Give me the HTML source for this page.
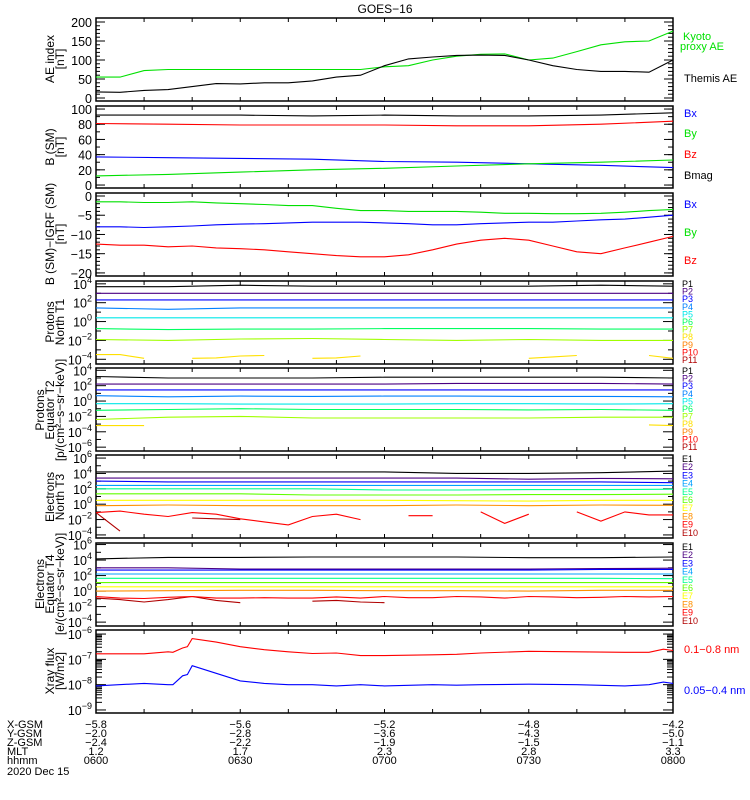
<!DOCTYPE html>
<html><head><meta charset="utf-8"><style>
html,body{margin:0;padding:0;background:#fff;}
svg{display:block;font-family:"Liberation Sans",sans-serif;}
</style></head><body>
<svg id="c" width="750" height="800" xmlns="http://www.w3.org/2000/svg">
<text x="385" y="13" font-size="12" text-anchor="middle">GOES−16</text>
</svg>
<script>
// ---- data (minutes after 06:00) ----
const t5 = [0,5,10,15,20,25,30,35,40,45,50,55,60,65,70,75,80,85,90,95,100,105,110,115,120];
const t15 = [0,15,30,45,60,75,90,105,120];
const aeThemis = [16,15,20,22,30,38,37,40,40,45,55,60,85,103,108,112,113,112,100,85,75,70,70,68,100];
const aeKyoto = [55,55,72,75,75,75,75,75,75,75,75,75,82,85,100,110,115,116,100,105,122,140,148,150,176];
const bmag = [92,92,92,91,92,91,91,92,95];
const bz = [81,80,79,79,79,78,78,80,84];
const bx = [37,36,35,34,31,30,28,26,23];
const by = [12,14,17,20,22,25,28,30,33];
const dbx = [-8,-8,-8.2,-8,-7.8,-7.5,-7.3,-7.2,-7,-6.8,-6.8,-6.8,-7,-7.2,-7.5,-7.5,-7.2,-7.0,-6.8,-6.8,-6.5,-6.2,-6,-5.5,-5];
const dby = [-1.5,-1.5,-1.7,-1.7,-1.5,-1.8,-2.0,-2.2,-2.5,-2.5,-3.2,-3.8,-3.8,-4.0,-4.0,-4.0,-4.2,-4.5,-4.5,-4.6,-4.6,-4.5,-4.2,-3.8,-3.5];
const dbz = [-12.5,-12.8,-12.8,-13.2,-13,-13.5,-13.7,-14,-14.5,-15,-15.5,-15.8,-15.8,-15.3,-14,-12.5,-11.5,-11,-11.5,-13,-14.5,-15,-13.5,-12,-10.5];
// log10 fluxes
const pnP1 = [3.7,3.7,3.85,3.75,3.75,3.75,3.75,3.85,3.75];
const pnP2 = [3.0,3.0,3.0,3.0,3.0,3.0,3.0,3.0,3.0];
const pnP3 = [2.3,2.3,2.3,2.3,2.3,2.3,2.3,2.3,2.3];
const pnP4 = [1.45,1.3,1.45,1.45,1.45,1.45,1.45,1.45,1.45];
const pnP5 = [0.4,0.4,0.4,0.4,0.4,0.4,0.4,0.4,0.4];
const pnP6 = [-0.75,-0.85,-0.8,-0.8,-0.75,-0.75,-0.75,-0.8,-0.8];
const pnP7 = [-1.9,-2.0,-1.85,-1.8,-1.9,-2.0,-1.9,-2.0,-2.0];
const pnP8 = [-3.5,-3.5,-3.9,null,-3.9,-3.85,-3.65,-3.6,null,-3.9,-3.85,-3.65,null,null,null,null,null,null,-3.9,-3.75,-3.6,null,null,-3.6,-3.9];
const peP1 = [3.2,3.0,3.0,3.0,3.1,3.1,3.1,3.1,3.0];
const peP2 = [2.2,2.2,2.2,2.2,2.2,2.3,2.3,2.3,2.2];
const peP3 = [1.45,1.45,1.45,1.45,1.45,1.45,1.45,1.45,1.45];
const peP4 = [0.7,0.55,0.65,0.6,0.65,0.65,0.6,0.6,0.55];
const peP5 = [-0.35,-0.35,-0.4,-0.4,-0.4,-0.35,-0.35,-0.4,-0.35];
const peP6 = [-1.2,-1.1,-1.0,-1.1,-1.1,-1.1,-1.15,-1.1,-1.2];
const peP7 = [-2.4,-2.1,-2.0,-2.2,-2.2,-2.2,-2.2,-2.1,-2.1];
const peP8 = [-3.2,-3.2,-3.2,null,null,null,null,null,null,null,null,null,null,null,null,null,null,null,null,null,null,null,null,-3.1,-3.2];
const enE1 = [4.2,4.2,4.2,4.2,4.2,4.0,4.0,4.1,4.3];
const enE2 = [3.4,3.4,3.4,3.4,3.4,3.4,3.25,3.35,3.3];
const enE3 = [3.0,2.9,2.9,2.9,2.9,2.9,2.9,2.9,2.8];
const enE4 = [2.45,2.45,2.45,2.45,2.45,2.45,2.45,2.45,2.45];
const enE5 = [2.0,2.0,2.0,2.0,1.85,1.85,1.9,1.9,1.95];
const enE6 = [1.35,1.35,1.35,1.2,1.2,1.2,1.25,1.25,1.3];
const enE7 = [0.5,0.5,0.5,0.5,0.5,0.45,0.4,0.5,0.5];
const enE8 = [-0.2,-0.1,-0.2,-0.2,-0.2,-0.1,-0.2,-0.1,-0.15];
const enE9 = [-1.1,-0.9,-1.3,-1.6,-1.1,-1.3,-1.9,-2.3,-2.7,-1.6,-1.3,-2.0,null,-1.5,-1.5,null,-1.0,-2.5,-1.3,null,-1.0,-2.2,-1.0,-1.4,-1.4];
const enE10 = [-1.1,-3.5,null,null,-1.8,-1.9,-2.0,null,null,null,null,null,null,null,null,null,null,null,null,null,null,null,null,null,null];
const eeE1 = [4.15,4.35,4.35,4.4,4.4,4.4,4.3,4.3,4.4];
const eeE2 = [3.0,3.0,2.85,2.85,2.85,2.85,2.85,2.9,2.95];
const eeE3 = [2.7,2.7,2.7,2.7,2.7,2.7,2.7,2.8,2.8];
const eeE4 = [2.2,2.2,2.2,2.2,2.2,2.2,2.2,2.2,2.2];
const eeE5 = [1.65,1.65,1.65,1.65,1.65,1.65,1.65,1.65,1.6];
const eeE6 = [1.1,1.1,1.1,1.1,1.1,1.1,1.1,1.1,1.1];
const eeE7 = [0.55,0.55,0.55,0.55,0.55,0.55,0.55,0.55,0.55];
const eeE8 = [0.0,0.05,0.1,0.1,0.05,0.05,0.0,0.1,0.1];
const eeE9 = [-0.7,-0.9,-0.95,-0.8,-0.7,-0.9,-0.9,-0.85,-0.9,-0.9,-0.75,-0.9,-0.7,-0.85,-0.85,-0.7,-0.75,-0.9,-0.7,-0.75,-0.85,-0.8,-0.7,-0.75,-0.7];
const eeE10 = [-0.9,-1.1,-1.4,-1.1,-0.7,-1.2,-1.5,null,null,-1.3,-1.2,-1.4,-1.5,null,null,null,null,null,null,null,null,null,null,null,null];
const tx = [0,10,15,16,18,19,20,25,30,35,40,45,50,55,60,70,75,80,90,100,110,115,118,120];
const xrLong = [-6.78,-6.78,-6.7,-6.72,-6.55,-6.5,-6.18,-6.32,-6.5,-6.62,-6.7,-6.77,-6.75,-6.85,-6.85,-6.82,-6.8,-6.75,-6.68,-6.7,-6.72,-6.72,-6.6,-6.65];
const xrShort = [-8.05,-7.95,-8.0,-8.0,-7.65,-7.6,-7.25,-7.55,-7.85,-7.95,-8.0,-8.0,-8.05,-8.0,-8.05,-8.0,-8.02,-8.0,-7.98,-8.0,-8.05,-8.0,-7.9,-7.95];
const xTickLabels = ["0600","0630","0700","0730","0800"];
const xgsm = ["−5.8","−5.6","−5.2","−4.8","−4.2"];
const ygsm = ["−2.0","−2.8","−3.6","−4.3","−5.0"];
const zgsm = ["−2.4","−2.2","−1.9","−1.5","−1.1"];
const mlt = ["1.2","1.7","2.3","2.8","3.3"];

const svg = document.getElementById('c');
const NS = 'http://www.w3.org/2000/svg';
const X0 = 96, X1 = 673, TMAX = 120;
function xs(t){ return X0 + (X1 - X0) * t / TMAX; }
function mk(tag, attrs, parent){ const e = document.createElementNS(NS, tag); for (const k in attrs) e.setAttribute(k, attrs[k]); (parent||svg).appendChild(e); return e; }
function txt(x, y, s, opts, parent){ const e = mk('text', Object.assign({x:x, y:y, 'font-size':11}, opts||{}), parent); e.textContent = s; return e; }

function panel(name, top, bot, vmin, vmax){
  const g = mk('g', {});
  
  
  const ys = v => bot - (bot - top) * (v - vmin) / (vmax - vmin);
  const r = mk('rect', {x:X0, y:top, width:X1-X0, height:bot-top, fill:'none', stroke:'#000', 'stroke-width':1.5}, g);
  
  
  for (let t = 0; t <= TMAX; t += 10){
    const x = xs(t);
    mk('line', {x1:x, x2:x, y1:top, y2:top+4, stroke:'#000'}, g);
    mk('line', {x1:x, x2:x, y1:bot, y2:bot-4, stroke:'#000'}, g);
  }
  return {g, ys, top, bot};
}
function series(p, times, vals, color, name){
  let d = '', pen = false;
  for (let i = 0; i < times.length; i++){
    const v = vals[i];
    if (v === null || v === undefined){ pen = false; continue; }
    d += (pen ? 'L' : 'M') + xs(times[i]).toFixed(1) + ' ' + p.ys(v).toFixed(1);
    pen = true;
  }
  const e = mk('path', {d:d, fill:'none', stroke:color, 'stroke-width':1.1}, p.g);
  
  
}
function linTicks(p, vals, step, minorStep){
  vals.forEach(v => {
    const y = p.ys(v);
    mk('line', {x1:X0, x2:X0+9, y1:y, y2:y, stroke:'#000'}, p.g);
    mk('line', {x1:X1, x2:X1-9, y1:y, y2:y, stroke:'#000'}, p.g);
    const e = txt(92, y+5, String(v).replace('-', '−'), {'text-anchor':'end', 'font-size':12.5}, p.g);
    
    
  });
  for (let v = Math.min(...vals); v <= Math.max(...vals) + 1e-9; v += minorStep){
    const y = p.ys(v);
    mk('line', {x1:X0, x2:X0+4, y1:y, y2:y, stroke:'#000'}, p.g);
    mk('line', {x1:X1, x2:X1-5, y1:y, y2:y, stroke:'#000'}, p.g);
  }
}
function logTicks(p, exps, minorExps){
  exps.forEach(v => {
    const y = p.ys(v);
    mk('line', {x1:X0, x2:X0+10, y1:y, y2:y, stroke:'#000'}, p.g);
    mk('line', {x1:X1, x2:X1-10, y1:y, y2:y, stroke:'#000'}, p.g);
    const e = txt(92, y+5, '', {'text-anchor':'end', 'font-size':12.5}, p.g);
    
    
    const a = mk('tspan', {}, e); a.textContent = '10';
    const b = mk('tspan', {dy:-6, 'font-size':9}, e); b.textContent = String(v).replace('-', '−');
  });
  minorExps.forEach(v => {
    const y = p.ys(v);
    mk('line', {x1:X0, x2:X0+5, y1:y, y2:y, stroke:'#000'}, p.g);
    mk('line', {x1:X1, x2:X1-5, y1:y, y2:y, stroke:'#000'}, p.g);
  });
}
function ylabel(lines, cy, nm){
  const g = mk('g', {transform:'translate(0,'+cy+') rotate(-90)'});
  
  
  const n = lines.length;
  lines.forEach((s, i) => { txt(0, 64 - (n-1-i)*10, s, {'text-anchor':'middle', 'font-size':12}, g); });
}
function rlabel(x, y, s, color, nm, size){
  const e = txt(x, y, s, {fill:color, 'font-size':size||10});
  
  
}

// AE
const pAE = panel('ae-index', 18, 101, -7.9, 210.5);
linTicks(pAE, [0,50,100,150,200], 50, 10);
series(pAE, t5, aeKyoto, '#00e000', 'kyoto-ae-line');
series(pAE, t5, aeThemis, '#000', 'themis-ae-line');
ylabel(['AE index','[nT]'], 59, 'ae-y-axis-title');
rlabel(683, 40, 'Kyoto', '#00e000', 'legend-kyoto', 11);
rlabel(680, 50, 'proxy AE', '#00e000', 'legend-proxy-ae', 11);
rlabel(684, 82, 'Themis AE', '#000', 'legend-themis-ae', 11);

// B
const pB = panel('b-sm', 106, 188, -3.9, 104);
linTicks(pB, [0,20,40,60,80,100], 20, 10);
series(pB, t15, bmag, '#000', 'bmag-line');
series(pB, t15, bz, '#ff0000', 'bz-line');
series(pB, t15, bx, '#0000ff', 'bx-line');
series(pB, t15, by, '#00e000', 'by-line');
ylabel(['B (SM)','[nT]'], 147, 'b-y-axis-title');
rlabel(684, 117, 'Bx', '#0000ff', 'legend-bx', 11);
rlabel(684, 137, 'By', '#00e000', 'legend-by', 11);
rlabel(684, 158, 'Bz', '#ff0000', 'legend-bz', 11);
rlabel(684, 179, 'Bmag', '#000', 'legend-bmag', 11);

// B - IGRF
const pD = panel('b-igrf', 193, 276, -20.8, 0.78);
linTicks(pD, [-20,-15,-10,-5,0], 5, 1);
series(pD, t5, dby, '#00e000', 'dby-line');
series(pD, t5, dbx, '#0000ff', 'dbx-line');
series(pD, t5, dbz, '#ff0000', 'dbz-line');
ylabel(['B (SM)−IGRF (SM)','[nT]'], 234, 'b-igrf-y-axis-title');
rlabel(684, 208, 'Bx', '#0000ff', 'legend-dbx', 11);
rlabel(684, 236, 'By', '#00e000', 'legend-dby', 11);
rlabel(684, 264, 'Bz', '#ff0000', 'legend-dbz', 11);

const pc = ['#000','#4b0082','#0000ff','#0080ff','#00e8e8','#00ff60','#a0ff00','#ffe000','#ff8000','#ff0000','#b00000'];
const ec = ['#000','#4b0082','#0000ff','#00a0ff','#00ff90','#60ff00','#ffff00','#ff9000','#ff0000','#b00000'];

// Protons North
const pPN = panel('protons-north', 281, 364, -4.5, 4.3);
logTicks(pPN, [4,2,0,-2,-4], [3,1,-1,-3]);
[pnP1,pnP2,pnP3,pnP4,pnP5,pnP6,pnP7].forEach((a,i) => series(pPN, t15, a, pc[i], 'pn-p'+(i+1)+'-line'));
series(pPN, t5, pnP8, pc[7], 'pn-p8-line');
ylabel(['Protons','North T1'], 322, 'protons-north-y-axis-title');
for (let i = 0; i < 11; i++) rlabel(682, 287 + i*7.6, 'P'+(i+1), pc[i], 'legend-pn-p'+(i+1), 9);

// Protons Equator
const pPE = panel('protons-equator', 368, 451, -6.5, 4.3);
logTicks(pPE, [4,2,0,-2,-4,-6], [3,1,-1,-3,-5]);
[peP1,peP2,peP3,peP4,peP5,peP6,peP7].forEach((a,i) => series(pPE, t15, a, pc[i], 'pe-p'+(i+1)+'-line'));
series(pPE, t5, peP8, pc[7], 'pe-p8-line');
ylabel(['Protons','Equator T2','[p/(cm²−s−sr−keV)]'], 410, 'protons-equator-y-axis-title');
for (let i = 0; i < 11; i++) rlabel(682, 374 + i*7.6, 'P'+(i+1), pc[i], 'legend-pe-p'+(i+1), 9);

// Electrons North
const pEN = panel('electrons-north', 455, 538, -4.4, 6.4);
logTicks(pEN, [6,4,2,0,-2,-4], [5,3,1,-1,-3]);
[enE1,enE2,enE3,enE4,enE5,enE6,enE7,enE8].forEach((a,i) => series(pEN, t15, a, ec[i], 'en-e'+(i+1)+'-line'));
series(pEN, t5, enE9, ec[8], 'en-e9-line');
series(pEN, t5, enE10, ec[9], 'en-e10-line');
ylabel(['Electrons','North T3'], 497, 'electrons-north-y-axis-title');
for (let i = 0; i < 10; i++) rlabel(682, 462 + i*8.2, 'E'+(i+1), ec[i], 'legend-en-e'+(i+1), 9);

// Electrons Equator
const pEE = panel('electrons-equator', 543, 626, -4.5, 6.2);
logTicks(pEE, [6,4,2,0,-2,-4], [5,3,1,-1,-3]);
[eeE1,eeE2,eeE3,eeE4,eeE5,eeE6,eeE7,eeE8].forEach((a,i) => series(pEE, t15, a, ec[i], 'ee-e'+(i+1)+'-line'));
series(pEE, t5, eeE10, ec[9], 'ee-e10-line');
series(pEE, t5, eeE9, ec[8], 'ee-e9-line');
ylabel(['Electrons','Equator T4','[e/(cm²−s−sr−keV)]'], 584, 'electrons-equator-y-axis-title');
for (let i = 0; i < 10; i++) rlabel(682, 550 + i*8.2, 'E'+(i+1), ec[i], 'legend-ee-e'+(i+1), 9);

// Xray
const pX = panel('xray-flux', 630, 713, -9.12, -5.84);
logTicks(pX, [-6,-7,-8,-9], []);
[-6,-7,-8,-9].forEach(d => { for (let k = 2; k <= 9; k++){ const v = d + Math.log10(k); if (v < -5.84) { const y = pX.ys(v); mk('line',{x1:X0,x2:X0+6,y1:y,y2:y,stroke:'#000'},pX.g); mk('line',{x1:X1,x2:X1-6,y1:y,y2:y,stroke:'#000'},pX.g);} } });
series(pX, tx, xrLong, '#ff0000', 'xray-long-line');
series(pX, tx, xrShort, '#0000ff', 'xray-short-line');
ylabel(['Xray flux','[W/m2]'], 671, 'xray-y-axis-title');
rlabel(684, 653, '0.1−0.8 nm', '#ff0000', 'legend-xray-long', 11);
rlabel(684, 694, '0.05−0.4 nm', '#0000ff', 'legend-xray-short', 11);

// bottom annotations
const rows = [['X-GSM', xgsm, 728], ['Y-GSM', ygsm, 737], ['Z-GSM', zgsm, 746], ['MLT', mlt, 755], ['hhmm', xTickLabels, 764]];
rows.forEach(r => {
  const e = txt(7, r[2], r[0], {'font-size':11});
  
  
  r[1].forEach((s, i) => {
    const v = txt(xs(i*30), r[2], s, {'font-size':11, 'text-anchor':'middle'});
    
    
  });
});
const dt = txt(7, 775, '2020 Dec 15', {'font-size':11});


</script>
</body></html>
